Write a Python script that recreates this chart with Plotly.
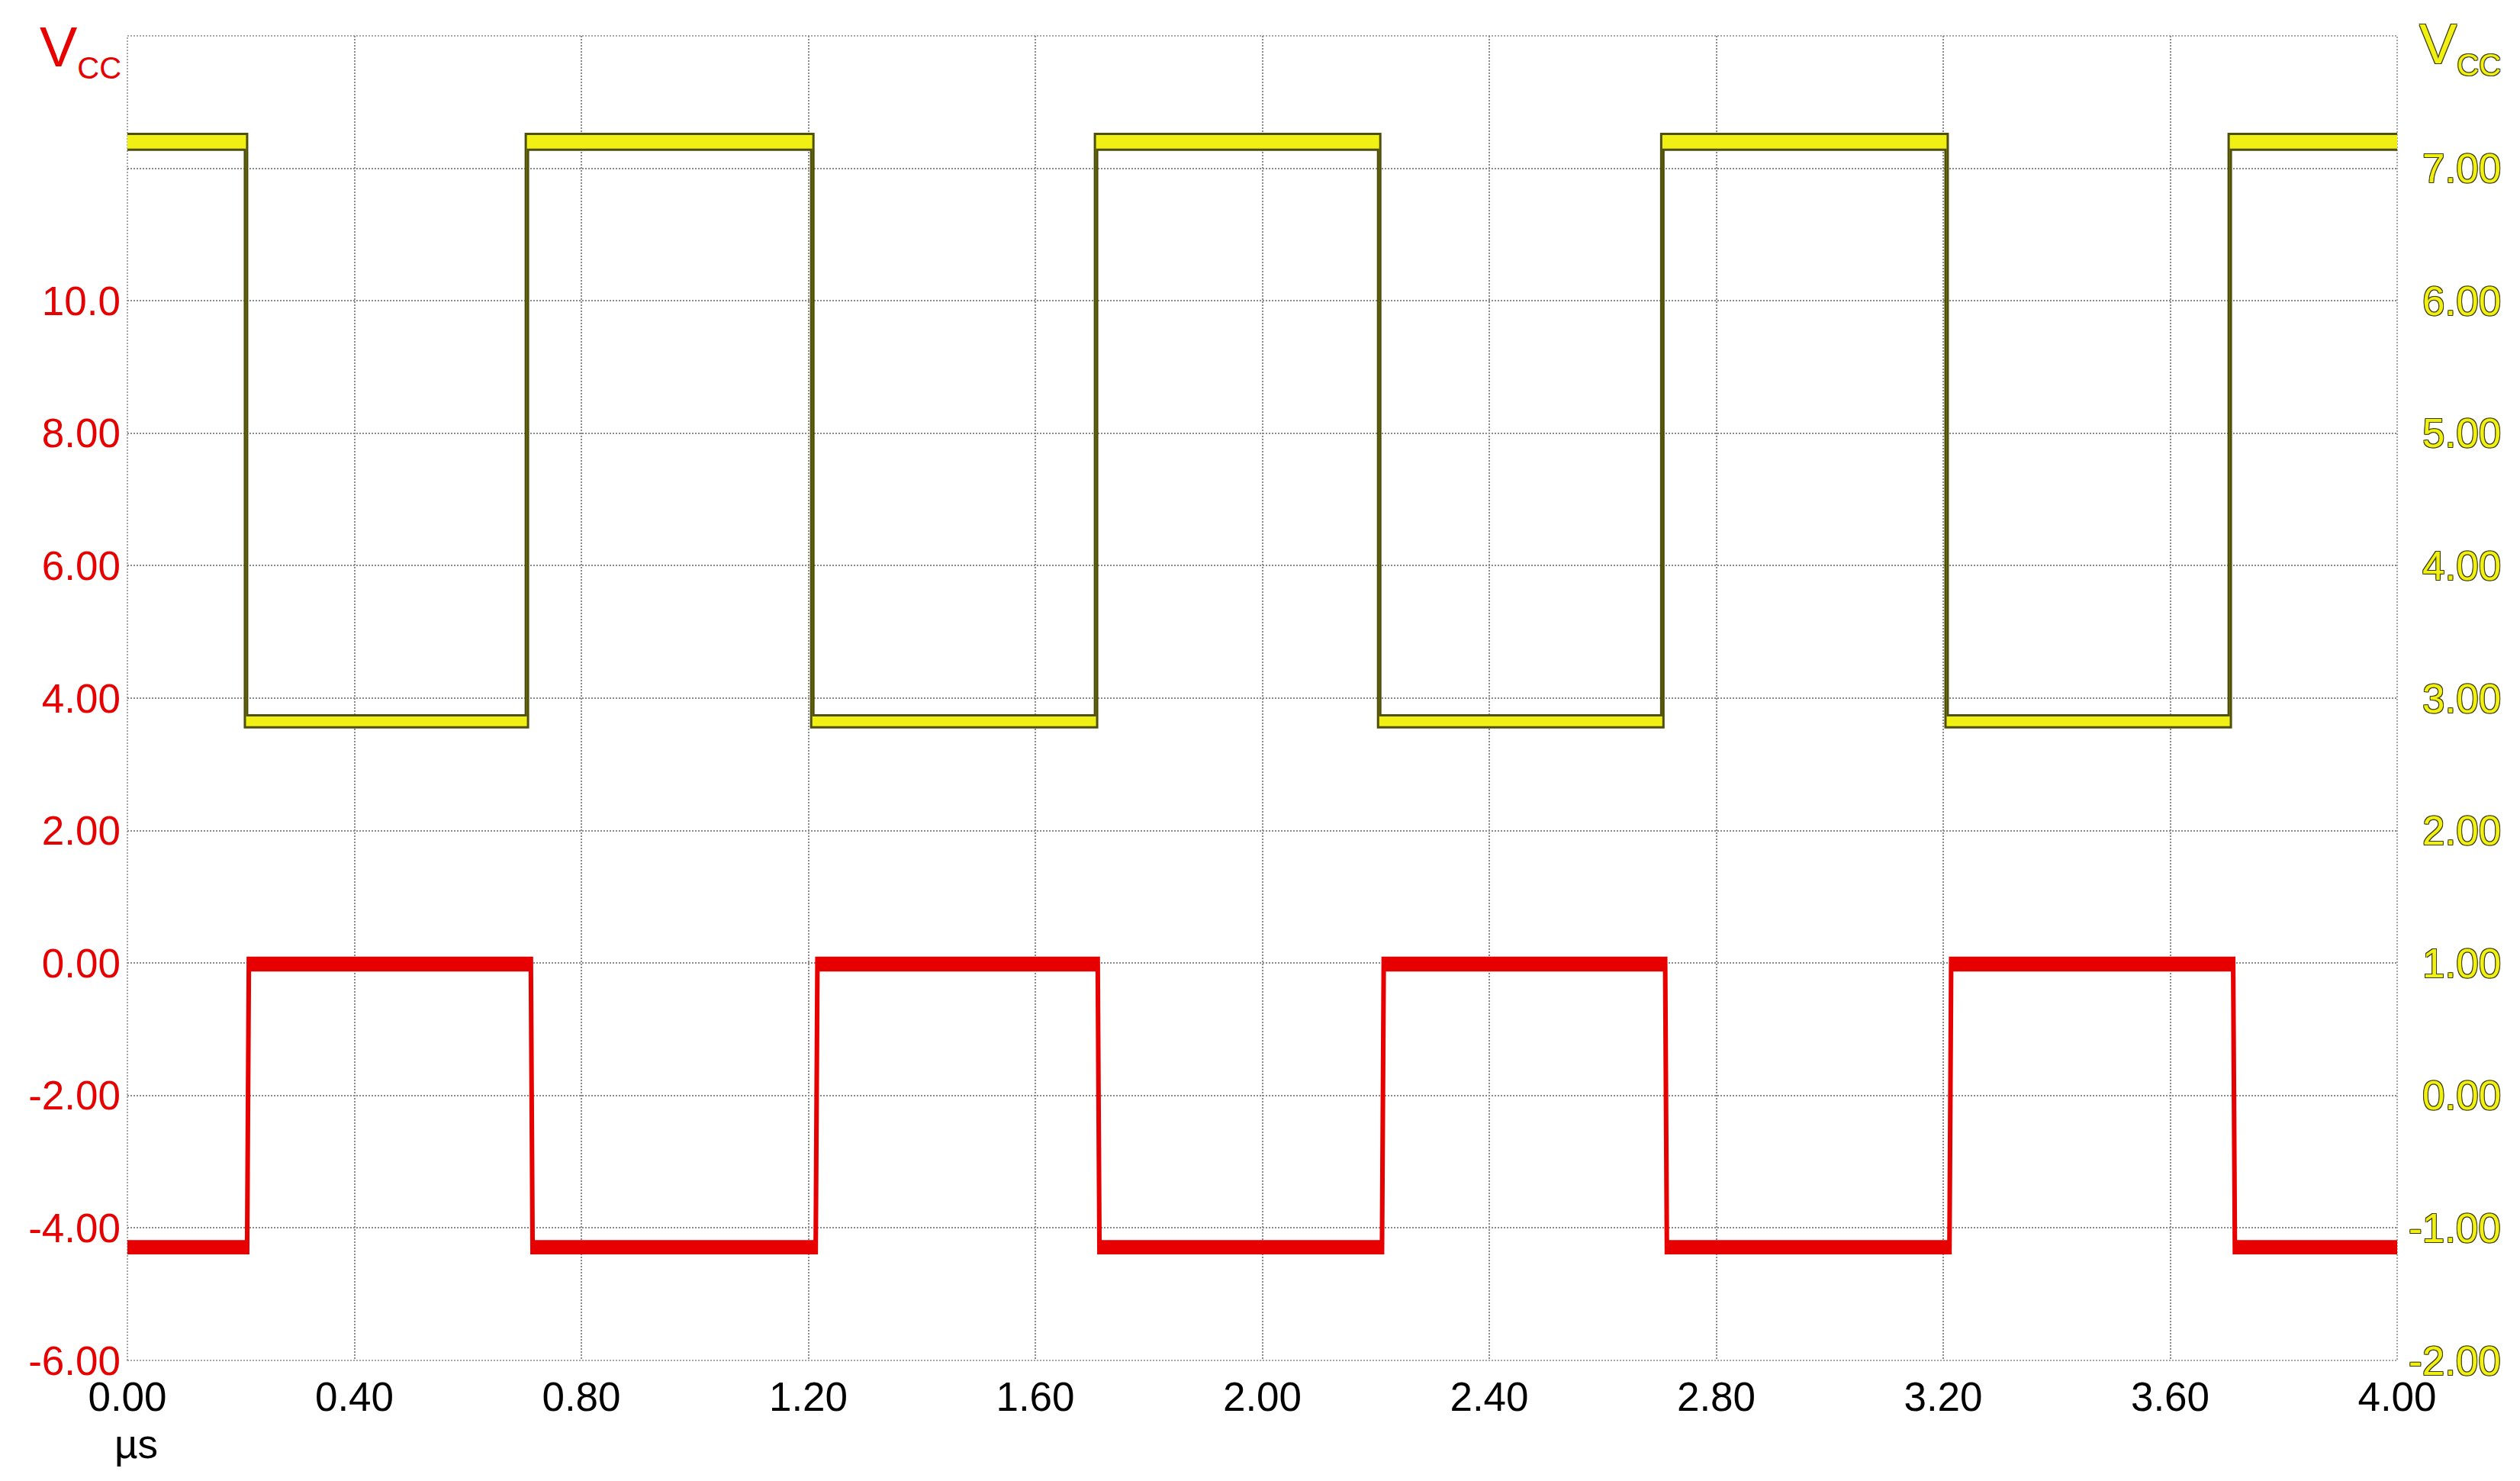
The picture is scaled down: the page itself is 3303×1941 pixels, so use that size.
import plotly.graph_objects as go

# ---------------- data ----------------
x_tickvals = [0.0, 0.4, 0.8, 1.2, 1.6, 2.0, 2.4, 2.8, 3.2, 3.6, 4.0]
x_ticktext = ["0.00", "0.40", "0.80", "1.20", "1.60", "2.00", "2.40", "2.80", "3.20", "3.60", "4.00"]

left_tickvals = [-6, -4, -2, 0, 2, 4, 6, 8, 10]
left_ticktext = ["-6.00", "-4.00", "-2.00", "0.00", "2.00", "4.00", "6.00", "8.00", "10.0"]
left_extra_grid = [12, 14]

right_tickvals = [-2, -1, 0, 1, 2, 3, 4, 5, 6, 7]
right_ticktext = ["-2.00", "-1.00", "0.00", "1.00", "2.00", "3.00", "4.00", "5.00", "6.00", "7.00"]

# yellow channel (right axis): segment boundaries (µs) and envelope levels per segment
yellow_edges = [0.000, 0.207, 0.702, 1.205, 1.705, 2.204, 2.703, 3.204, 3.703, 4.000]
yellow_upper = [7.26, 2.87, 7.26, 2.87, 7.26, 2.87, 7.26, 2.87, 7.26]
yellow_lower = [7.14, 2.78, 7.14, 2.78, 7.14, 2.78, 7.14, 2.78, 7.14]

# red channel (left axis)
red_edges = [0.000, 0.209, 0.709, 1.211, 1.708, 2.209, 2.708, 3.209, 3.709, 4.000]
red_upper = [-4.20, 0.08, -4.20, 0.08, -4.20, 0.08, -4.20, 0.08, -4.20]
red_lower = [-4.38, -0.11, -4.38, -0.11, -4.38, -0.11, -4.38, -0.11, -4.38]

# ---------------- styling ----------------
FONT = "Liberation Sans, Arial, sans-serif"
RED = "#e60000"
YEL = "#f0f014"
OLIVE = "#4f4f0c"
GRID = "#8a8a8a"
OUTLINE = "1px 1px 0 #3a3a00, -1px -1px 0 #3a3a00, 1px -1px 0 #3a3a00, -1px 1px 0 #3a3a00"
GRIDDASH = "2px,2px"


def envelope(edges, levels, d_fall, d_rise, slant=0.0):
    """Step path through the read segment levels; d_* widen the edge stroke."""
    bx = [edges[0]]
    for j in range(1, len(levels)):
        rising = levels[j] > levels[j - 1]
        bx.append(edges[j] + (d_rise if rising else d_fall))
    bx.append(edges[-1])
    xs, ys = [], []
    for i, v in enumerate(levels):
        xs += [bx[i] + (slant if i > 0 else 0.0), bx[i + 1]]
        ys += [v, v]
    return xs, ys


fig = go.Figure()

D = 0.004
# yellow trace
yx_lo, yy_lo = envelope(yellow_edges, yellow_lower, 0.0, D)
yx_hi, yy_hi = envelope(yellow_edges, yellow_upper, D, 0.0)
fig.add_trace(go.Scatter(x=yx_lo, y=yy_lo, yaxis="y2", mode="lines",
                         line=dict(color=OLIVE, width=3), showlegend=False, hoverinfo="skip"))
fig.add_trace(go.Scatter(x=yx_hi, y=yy_hi, yaxis="y2", mode="lines", fill="tonexty",
                         fillcolor=YEL, line=dict(color=OLIVE, width=3),
                         showlegend=False, hoverinfo="skip"))

# red trace
rx_lo, ry_lo = envelope(red_edges, red_lower, 0.0, D, slant=0.003)
rx_hi, ry_hi = envelope(red_edges, red_upper, D, 0.0, slant=0.003)
fig.add_trace(go.Scatter(x=rx_lo, y=ry_lo, mode="lines",
                         line=dict(color=RED, width=3), showlegend=False, hoverinfo="skip"))
fig.add_trace(go.Scatter(x=rx_hi, y=ry_hi, mode="lines", fill="tonexty",
                         fillcolor=RED, line=dict(color=RED, width=3),
                         showlegend=False, hoverinfo="skip"))

W, H = 3303, 1941
L, R, T, B = 167, 161, 47, 158
pw, ph = W - L - R, H - T - B

fig.update_layout(
    width=W, height=H,
    margin=dict(l=L, r=R, t=T, b=B, pad=0),
    paper_bgcolor="white", plot_bgcolor="white",
    font=dict(family=FONT, size=53, color="black"),
    xaxis=dict(range=[0, 4], tickvals=x_tickvals, ticktext=x_ticktext,
               showgrid=True, gridcolor=GRID, gridwidth=1.5, griddash=GRIDDASH,
               zeroline=False, showline=False, ticks="", ticklabelstandoff=12,
               tickfont=dict(family=FONT, size=53, color="black")),
    yaxis=dict(range=[-6, 14], tickvals=left_tickvals, ticktext=left_ticktext,
               showgrid=True, gridcolor=GRID, gridwidth=1.5, griddash=GRIDDASH,
               zeroline=False, showline=False, ticks="", ticklabelstandoff=8,
               tickfont=dict(family=FONT, size=53, color=RED),
               minor=dict(tickvals=left_extra_grid, showgrid=True, gridcolor=GRID,
                          gridwidth=1.5, griddash=GRIDDASH, ticks="")),
    yaxis2=dict(range=[-2, 8], overlaying="y", side="right", showgrid=False,
                zeroline=False, showline=False, showticklabels=False, ticks=""),
    shapes=[dict(type="rect", xref="paper", yref="paper", x0=0, x1=1, y0=0, y1=1,
                 line=dict(color=GRID, width=1.5, dash=GRIDDASH), layer="below")],
)

annotations = []
xr = 1 + (3280 - (W - R)) / pw
for v, t in zip(right_tickvals, right_ticktext):
    annotations.append(dict(x=xr, xref="paper", y=v, yref="y2", text=t, showarrow=False,
                            xanchor="right", yanchor="middle",
                            font=dict(family=FONT, size=53, color=YEL, shadow=OUTLINE)))
# V_CC labels
VCC = "V<sub><span style='font-size:40px'>CC</span></sub>"
annotations.append(dict(x=(50 - L) / pw, xref="paper", y=1 + (T - 18) / ph, yref="paper",
                        text=VCC, showarrow=False, xanchor="left", yanchor="top",
                        font=dict(family=FONT, size=74, color=RED)))
annotations.append(dict(x=xr, xref="paper", y=1 + (T - 14) / ph, yref="paper",
                        text=VCC, showarrow=False, xanchor="right", yanchor="top",
                        font=dict(family=FONT, size=74, color=YEL, shadow=OUTLINE)))
# µs unit
annotations.append(dict(x=(178 - L) / pw, xref="paper", y=-(1892 - (H - B)) / ph, yref="paper",
                        text="µs", showarrow=False, xanchor="center", yanchor="middle",
                        font=dict(family=FONT, size=53, color="black")))
fig.update_layout(annotations=annotations)

fig.write_html("out.html", config={"displayModeBar": False},
               post_script="document.body.style.margin='0';document.body.style.overflow='hidden';")
